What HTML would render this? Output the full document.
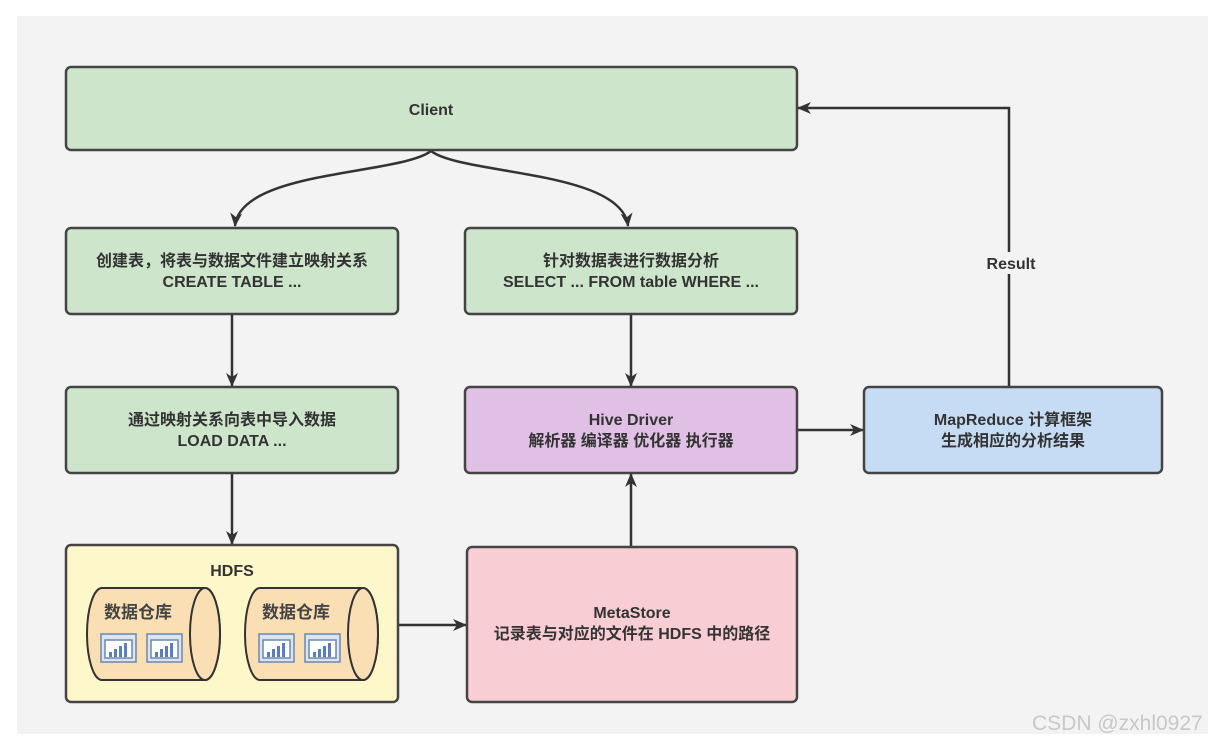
<!DOCTYPE html>
<html><head><meta charset="utf-8"><style>
body{margin:0;width:1219px;height:745px;background:#fff;position:relative;overflow:hidden;font-family:"Liberation Sans","Noto Sans CJK SC",sans-serif;}
</style></head><body>
<svg width="1219" height="745" style="position:absolute;left:0;top:0" font-family="'Liberation Sans','Noto Sans CJK SC',sans-serif">
<defs><marker id="a" markerWidth="14" markerHeight="14" refX="13" refY="7" orient="auto" markerUnits="userSpaceOnUse"><path d="M0,1 L14,7 L0,13 L4,7 Z" fill="#333"/></marker></defs>
<rect x="17" y="16" width="1191" height="718" fill="#f3f3f3"/>
<g stroke="#333" stroke-width="2.5" fill="none">
<path d="M431,151 C400,175 240,170 235,226" marker-end="url(#a)"/>
<path d="M431,151 C462,175 622,170 628,226" marker-end="url(#a)"/>
<path d="M232,315 L232,386" marker-end="url(#a)"/>
<path d="M232,474 L232,544" marker-end="url(#a)"/>
<path d="M631,315 L631,386" marker-end="url(#a)"/>
<path d="M631,546 L631,474" marker-end="url(#a)"/>
<path d="M399,625 L466,625" marker-end="url(#a)"/>
<path d="M798,430 L863,430" marker-end="url(#a)"/>
<path d="M1009,386 L1009,108 L798,108" marker-end="url(#a)"/>
</g>
<rect x="980" y="252" width="60" height="22" fill="#f3f3f3"/>
<text x="1011" y="269" text-anchor="middle" font-size="16" font-weight="bold" fill="#333">Result</text>
<g stroke="#444" stroke-width="2.5">
<rect x="66" y="67" width="731" height="83" rx="5" fill="#cde5cb"/>
<rect x="66" y="228" width="332" height="86" rx="5" fill="#cde5cb"/>
<rect x="465" y="228" width="332" height="86" rx="5" fill="#cde5cb"/>
<rect x="66" y="387" width="332" height="86" rx="5" fill="#cde5cb"/>
<rect x="465" y="387" width="332" height="86" rx="5" fill="#e0c0e4"/>
<rect x="864" y="387" width="298" height="86" rx="5" fill="#c6dcf4"/>
<rect x="66" y="545" width="332" height="157" rx="5" fill="#fdf7c9"/>
<rect x="467" y="547" width="330" height="155" rx="5" fill="#f8cdd3"/>
</g>
<g font-size="16" font-weight="bold" fill="#333" text-anchor="middle">
<text x="431" y="115">Client</text>
<text x="232" y="266">创建表，将表与数据文件建立映射关系</text>
<text x="232" y="287">CREATE TABLE ...</text>
<text x="631" y="266">针对数据表进行数据分析</text>
<text x="631" y="287">SELECT ... FROM table WHERE ...</text>
<text x="232" y="425">通过映射关系向表中导入数据</text>
<text x="232" y="446">LOAD DATA ...</text>
<text x="631" y="425">Hive Driver</text>
<text x="631" y="446">解析器 编译器 优化器 执行器</text>
<text x="1013" y="425">MapReduce 计算框架</text>
<text x="1013" y="446">生成相应的分析结果</text>
<text x="232" y="576">HDFS</text>
<text x="632" y="618">MetaStore</text>
<text x="632" y="639">记录表与对应的文件在 HDFS 中的路径</text>
</g>
<g id="cyl">
<path d="M102,588 L205,588 A15,46 0 0 1 205,680 L102,680 A15,46 0 0 1 102,588 Z" fill="#f9dfb3" stroke="#333" stroke-width="2"/>
<ellipse cx="205" cy="634" rx="15" ry="46" fill="#f9dfb3" stroke="#333" stroke-width="2"/>
<text x="138" y="618" font-size="17" font-weight="bold" fill="#444" text-anchor="middle">数据仓库</text>
<g stroke="#6a87b0" stroke-width="1.5">
<rect x="101" y="634" width="35" height="28" fill="#dbe5f2"/><rect x="105" y="640" width="27" height="18" fill="#fff"/>
<rect x="147" y="634" width="35" height="28" fill="#dbe5f2"/><rect x="151" y="640" width="27" height="18" fill="#fff"/>
</g>
<g fill="#5a7fc0"><rect x="109" y="652" width="3" height="5"/><rect x="114" y="649" width="3" height="8"/><rect x="119" y="646" width="3" height="11"/><rect x="124" y="643" width="3" height="14"/>
<rect x="155" y="652" width="3" height="5"/><rect x="160" y="649" width="3" height="8"/><rect x="165" y="646" width="3" height="11"/><rect x="170" y="643" width="3" height="14"/></g>
</g>
<use href="#cyl" x="158"/>
</svg>
<div style="position:absolute;left:1032px;top:712px;font-size:21px;color:#c8c8c8;font-family:'Liberation Sans',sans-serif">CSDN @zxhl0927</div>
</body></html>
